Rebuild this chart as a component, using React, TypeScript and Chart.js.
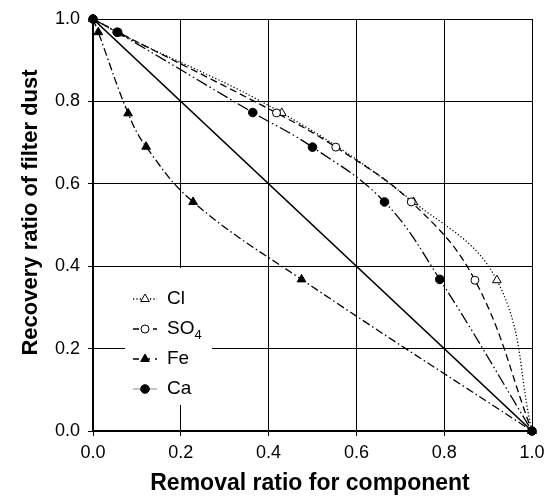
import React, { useEffect, useRef } from "react";
import { Chart, registerables } from "chart.js";

Chart.register(...registerables);

// ---- data ----
const diagX = [0, 1];
const diagY = [1, 0];

const clX = [0, 0.06, 0.43, 0.73, 0.92, 1];
const clY = [1, 0.965, 0.772, 0.556, 0.366, 0];

const so4X = [0, 0.057, 0.418, 0.553, 0.725, 0.87, 1];
const so4Y = [1, 0.968, 0.772, 0.689, 0.556, 0.366, 0];

const feX = [0, 0.012, 0.08, 0.121, 0.228, 0.475, 1];
const feY = [1, 0.968, 0.771, 0.69, 0.556, 0.368, 0];

const caX = [0, 0.055, 0.364, 0.5, 0.664, 0.79, 1];
const caY = [1, 0.968, 0.773, 0.689, 0.556, 0.368, 0];

const seriesNames = ["Cl", "SO4", "Fe", "Ca"];
const tickValues = [0, 0.2, 0.4, 0.6, 0.8, 1.0];
const xTitle = "Removal ratio for component";
const yTitle = "Recovery ratio of filter dust";

const FONT = "'Liberation Sans', Arial, Helvetica, sans-serif";

const toPts = (xs: number[], ys: number[]) => xs.map((x, i) => ({ x, y: ys[i] }));

const styles = [
  { dash: [1.2, 2.2], style: "triangle", fill: "#ffffff", r: 5, order: 3 },
  { dash: [7, 4], style: "circle", fill: "#ffffff", r: 4, order: 2 },
  { dash: [8, 3, 1.5, 3], style: "triangle", fill: "#000000", r: 5, order: 1 },
  { dash: [12, 3, 1.5, 3, 1.5, 3], style: "circle", fill: "#000000", r: 4.3, order: 0 },
];

const overlayPlugin = {
  id: "overlay",
  afterDraw(chart: any) {
    const ctx = chart.ctx as CanvasRenderingContext2D;
    ctx.save();
    // legend box
    ctx.fillStyle = "#ffffff";
    ctx.fillRect(125, 268, 87, 137);
    const rows = [299, 329, 359, 389];
    seriesNames.forEach((name, i) => {
      const y = rows[i];
      const st = styles[i];
      ctx.save();
      if (i === 3) {
        ctx.strokeStyle = "#888888";
        ctx.lineWidth = 1;
        ctx.setLineDash([]);
      } else {
        ctx.strokeStyle = "#000000";
        ctx.lineWidth = 1.3;
        ctx.setLineDash(i === 0 ? [1.2, 2.2] : i === 1 ? [6, 4] : [6, 5]);
      }
      ctx.beginPath();
      ctx.moveTo(133, y);
      ctx.lineTo(157, y);
      ctx.stroke();
      ctx.restore();
      // marker
      ctx.save();
      ctx.setLineDash([]);
      ctx.lineWidth = 1;
      ctx.strokeStyle = "#000000";
      ctx.fillStyle = st.fill;
      ctx.beginPath();
      const mx = 145;
      if (st.style === "circle") {
        ctx.arc(mx, y, st.r, 0, Math.PI * 2);
      } else {
        const r = st.r;
        let rad = 0;
        ctx.moveTo(mx + Math.sin(rad) * r, y - Math.cos(rad) * r);
        rad += (2 * Math.PI) / 3;
        ctx.lineTo(mx + Math.sin(rad) * r, y - Math.cos(rad) * r);
        rad += (2 * Math.PI) / 3;
        ctx.lineTo(mx + Math.sin(rad) * r, y - Math.cos(rad) * r);
        ctx.closePath();
      }
      ctx.fill();
      ctx.stroke();
      ctx.restore();
      // text
      ctx.fillStyle = "#000000";
      ctx.textBaseline = "middle";
      ctx.textAlign = "left";
      ctx.font = `19px ${FONT}`;
      if (name === "SO4") {
        ctx.fillText("SO", 167, y);
        const w = ctx.measureText("SO").width;
        ctx.font = `13px ${FONT}`;
        ctx.fillText("4", 167 + w, y + 6);
      } else {
        ctx.fillText(name, 167, y);
      }
    });
    // axis titles
    ctx.fillStyle = "#000000";
    ctx.font = `bold 23px ${FONT}`;
    ctx.textAlign = "center";
    ctx.textBaseline = "alphabetic";
    ctx.fillText(xTitle, 310, 489.5);
    ctx.save();
    ctx.translate(37, 212.5);
    ctx.rotate(-Math.PI / 2);
    ctx.font = `bold 22px ${FONT}`;
    ctx.fillText(yTitle, 0, 0);
    ctx.restore();
    ctx.restore();
  },
};

export default function App() {
  const ref = useRef<HTMLCanvasElement | null>(null);
  useEffect(() => {
    if (!ref.current) return;
    const series = [toPts(clX, clY), toPts(so4X, so4Y), toPts(feX, feY), toPts(caX, caY)];
    const datasets: any[] = series.map((d, i) => ({
      label: seriesNames[i],
      data: d,
      order: styles[i].order,
      showLine: true,
      clip: false,
      borderColor: "#000000",
      borderWidth: 1.3,
      borderDash: styles[i].dash,
      tension: 0.4,
      pointStyle: styles[i].style,
      pointRadius: styles[i].r,
      pointBackgroundColor: styles[i].fill,
      pointBorderColor: "#000000",
      pointBorderWidth: 1,
      fill: false,
    }));
    datasets.push({
      label: "1:1",
      data: toPts(diagX, diagY),
      order: 4,
      showLine: true,
      borderColor: "#000000",
      borderWidth: 1.6,
      pointRadius: 0,
      fill: false,
    });
    const chart = new Chart(ref.current, {
      type: "scatter",
      data: { datasets },
      options: {
        animation: false,
        responsive: false,
        devicePixelRatio: 1,
        layout: { padding: { top: 19, right: 22, left: 0, bottom: 0 } },
        plugins: { legend: { display: false }, tooltip: { enabled: false } },
        scales: {
          x: {
            type: "linear",
            min: 0,
            max: 1,
            afterFit: (s: any) => {
              s.height = 66;
            },
            afterBuildTicks: (s: any) => {
              s.ticks = tickValues.map((v) => ({ value: v }));
            },
            ticks: {
              color: "#000000",
              font: { family: FONT, size: 18 },
              padding: 6,
              maxRotation: 0,
              callback: (v: any) => Number(v).toFixed(1),
            },
            grid: { color: "#000000", lineWidth: 1, tickLength: 5, drawTicks: true },
            border: { display: true, color: "#000000", width: 2 },
          },
          y: {
            type: "linear",
            min: 0,
            max: 1,
            afterFit: (s: any) => {
              s.width = 93;
            },
            afterBuildTicks: (s: any) => {
              s.ticks = tickValues.map((v) => ({ value: v }));
            },
            ticks: {
              color: "#000000",
              font: { family: FONT, size: 18 },
              padding: 8,
              callback: (v: any) => Number(v).toFixed(1),
            },
            grid: { color: "#000000", lineWidth: 1, tickLength: 5, drawTicks: true },
            border: { display: true, color: "#000000", width: 2 },
          },
        },
      },
      plugins: [overlayPlugin],
    });
    return () => chart.destroy();
  }, []);
  return (
    <div style={{ position: "absolute", left: 0, top: 0, width: 554, height: 497, background: "#ffffff" }}>
      <canvas ref={ref} width={554} height={497} style={{ width: 554, height: 497, display: "block" }} />
    </div>
  );
}
